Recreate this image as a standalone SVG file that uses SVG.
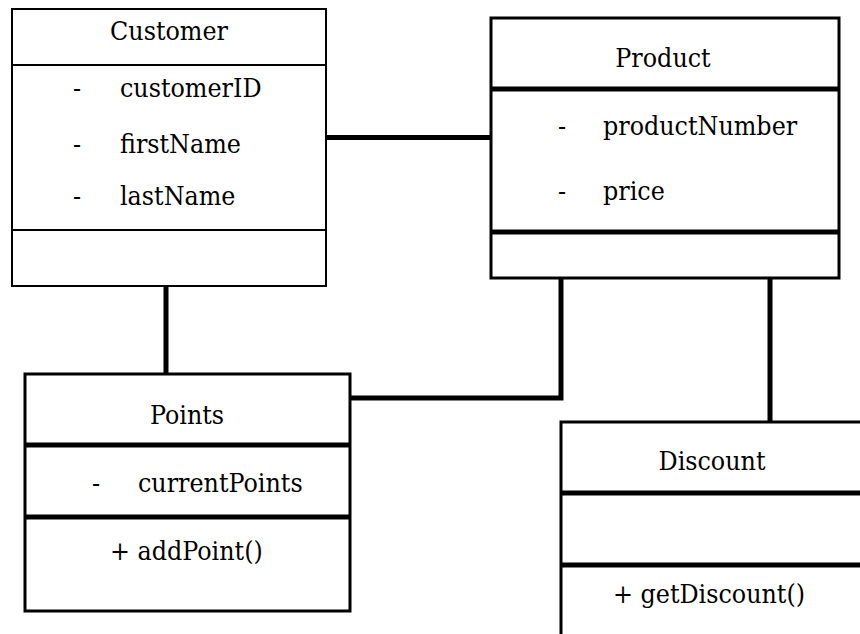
<svg xmlns="http://www.w3.org/2000/svg" width="860" height="634" viewBox="0 0 860 634">
<style>
.bg{fill:#fff}
.box{fill:#fff;stroke:#000;stroke-width:3}
.thin{fill:#fff;stroke:#000;stroke-width:2}
.div{stroke:#000;stroke-width:5}
.divthin{stroke:#000;stroke-width:2}
.conn{fill:none;stroke:#000;stroke-width:5;stroke-linejoin:miter}
.t{font-family:'DejaVu Serif Condensed','DejaVu Serif',serif;font-stretch:condensed;font-size:26.5px;fill:#000}
.c{text-anchor:middle}
</style>
<rect class="bg" x="0" y="0" width="860" height="634"/>
<g id="connectors">
<line class="conn" x1="326" y1="137.5" x2="491" y2="137.5"/>
<line class="conn" x1="166" y1="280" x2="166" y2="374"/>
<polyline class="conn" points="350,398 561,398 561,278"/>
<line class="conn" x1="770" y1="278" x2="770" y2="422"/>
</g>
<g id="customer" class="t">
<rect class="thin" x="12" y="9" width="314" height="277"/>
<line class="divthin" x1="12" y1="65" x2="326" y2="65"/>
<line class="divthin" x1="12" y1="230" x2="326" y2="230"/>
<text class="c" x="169" y="40">Customer</text>
<text x="73" y="97">-</text><text x="120" y="97">customerID</text>
<text x="73" y="153">-</text><text x="120" y="153">firstName</text>
<text x="73" y="205">-</text><text x="120" y="205">lastName</text>
</g>
<g id="product" class="t">
<rect class="box" x="491" y="18" width="348" height="260"/>
<line class="div" x1="491" y1="89" x2="839" y2="89"/>
<line class="div" x1="491" y1="232" x2="839" y2="232"/>
<text class="c" x="663" y="67">Product</text>
<text x="558" y="135">-</text><text x="603" y="135">productNumber</text>
<text x="558" y="200">-</text><text x="603" y="200">price</text>
</g>
<g id="points" class="t">
<rect class="box" x="25" y="374" width="325" height="237"/>
<line class="div" x1="25" y1="445" x2="350" y2="445"/>
<line class="div" x1="25" y1="517" x2="350" y2="517"/>
<text class="c" x="187" y="424">Points</text>
<text x="92" y="492">-</text><text x="138" y="492">currentPoints</text>
<text x="110" y="560">+ addPoint()</text>
</g>
<g id="discount" class="t">
<rect class="box" x="561" y="422" width="320" height="230"/>
<line class="div" x1="561" y1="493" x2="870" y2="493"/>
<line class="div" x1="561" y1="565" x2="870" y2="565"/>
<text class="c" x="712" y="470">Discount</text>
<text x="613" y="603">+ getDiscount()</text>
</g>
</svg>
